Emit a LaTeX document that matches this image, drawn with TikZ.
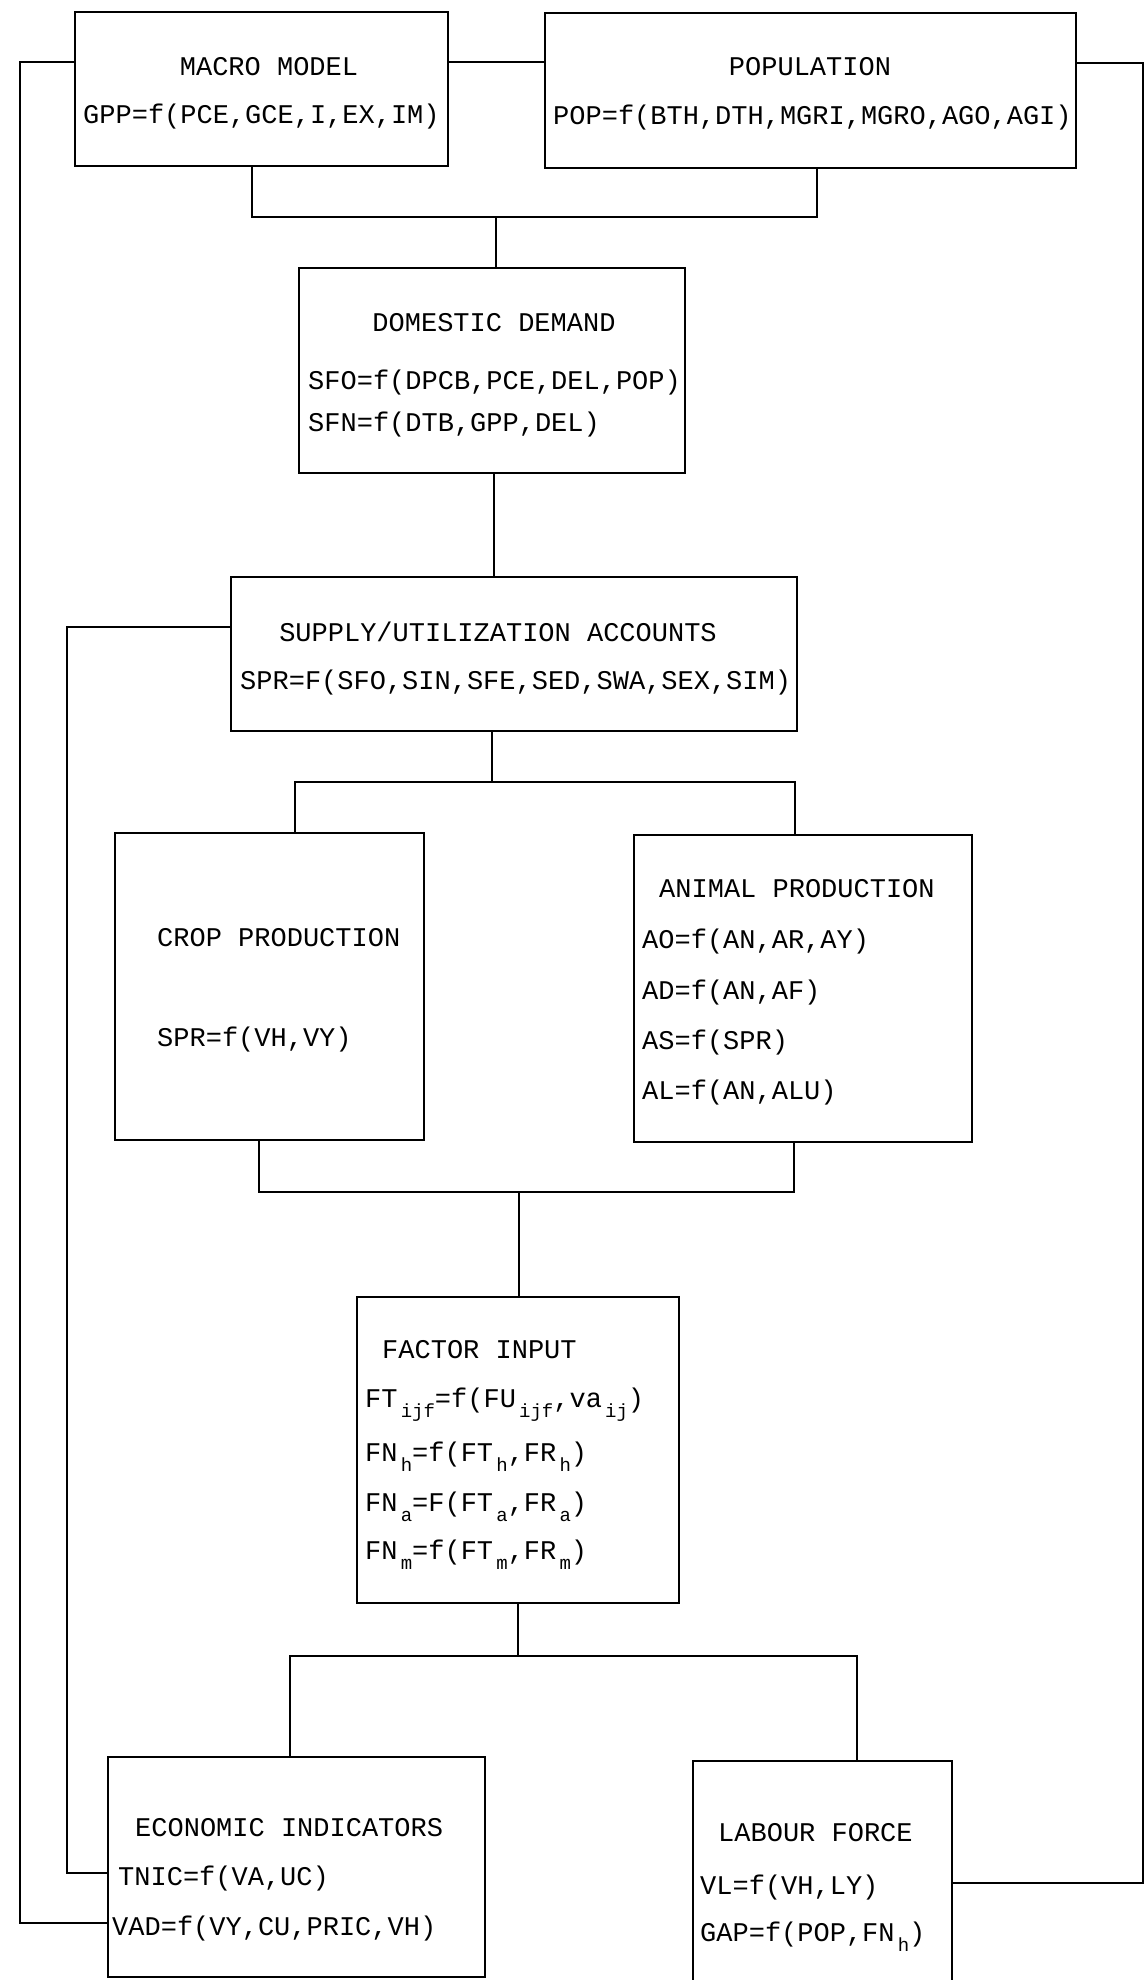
\documentclass[tikz,border=0pt]{standalone}
\usepackage{fontspec}
\setmainfont{Liberation Mono}
\newcommand{\lowsub}[1]{\raisebox{-10pt}{\fontsize{19}{19}\selectfont\,#1}}

\begin{document}
\begin{tikzpicture}[x=1pt,y=-1pt,
    box/.style={draw,line width=2pt,inner sep=0pt},
    ttl/.style={inner sep=0pt,font=\fontsize{27}{30}\selectfont},
    txt/.style={anchor=west,inner sep=0pt,font=\fontsize{27}{30}\selectfont},
    link/.style={line width=2pt}]
      \useasboundingbox (0,0) rectangle (1145,1980) ;
      % boxes
      \node[box,minimum width=373,minimum height=154] (macro) at (261.5,89) {} ;
      \node[box,minimum width=531,minimum height=155] (pop) at (810.5,90.5) {} ;
      \node[box,minimum width=386,minimum height=205] (dom) at (492,370.5) {} ;
      \node[box,minimum width=566,minimum height=154] (sua) at (514,654) {} ;
      \node[box,minimum width=309,minimum height=307] (crop) at (269.5,986.5) {} ;
      \node[box,minimum width=338,minimum height=307] (anim) at (803,988.5) {} ;
      \node[box,minimum width=322,minimum height=306] (fact) at (518,1450) {} ;
      \node[box,minimum width=377,minimum height=220] (econ) at (296.5,1867) {} ;
      \node[box,minimum width=259,minimum height=228] (lab) at (822.5,1875) {} ;
      % texts
      \node[ttl] (macroT) at (269,67) {MACRO MODEL} ;
      \node[txt] (macroF) at (83,117) {GPP=f(PCE,GCE,I,EX,IM)} ;
      \node[ttl] (popT) at (810,67) {POPULATION} ;
      \node[txt] (popF) at (553,118) {POP=f(BTH,DTH,MGRI,MGRO,AGO,AGI)} ;
      \node[ttl] (domT) at (494,323) {DOMESTIC DEMAND} ;
      \node[txt] (domA) at (308,383) {SFO=f(DPCB,PCE,DEL,POP)} ;
      \node[txt] (domB) at (308,425) {SFN=f(DTB,GPP,DEL)} ;
      \node[ttl] (suaT) at (498,632) {SUPPLY/UTILIZATION ACCOUNTS} ;
      \node[txt] (suaF) at (240,683) {SPR=F(SFO,SIN,SFE,SED,SWA,SEX,SIM)} ;
      \node[txt] (cropT) at (157,938) {CROP PRODUCTION} ;
      \node[txt] (cropF) at (157,1040) {SPR=f(VH,VY)} ;
      \node[txt] (animT) at (659,889) {ANIMAL PRODUCTION} ;
      \node[txt] (animA) at (642,942) {AO=f(AN,AR,AY)} ;
      \node[txt] (animB) at (642,993) {AD=f(AN,AF)} ;
      \node[txt] (animC) at (642,1043) {AS=f(SPR)} ;
      \node[txt] (animD) at (642,1093) {AL=f(AN,ALU)} ;
      \node[txt] (factT) at (382,1350) {FACTOR INPUT} ;
      \node[txt] (factA) at (365,1405) {FT\lowsub{ijf}=f(FU\lowsub{ijf},va\lowsub{ij})} ;
      \node[txt] (factB) at (365,1457) {FN\lowsub{h}=f(FT\lowsub{h},FR\lowsub{h})} ;
      \node[txt] (factC) at (365,1507) {FN\lowsub{a}=F(FT\lowsub{a},FR\lowsub{a})} ;
      \node[txt] (factD) at (365,1555) {FN\lowsub{m}=f(FT\lowsub{m},FR\lowsub{m})} ;
      \node[txt] (econT) at (135,1828) {ECONOMIC INDICATORS} ;
      \node[txt] (econA) at (118,1878) {TNIC=f(VA,UC)} ;
      \node[txt] (econB) at (112,1928) {VAD=f(VY,CU,PRIC,VH)} ;
      \node[txt] (labT) at (718,1833) {LABOUR FORCE} ;
      \node[txt] (labA) at (700,1887) {VL=f(VH,LY)} ;
      \node[txt] (labB) at (700,1937) {GAP=f(POP,FN\lowsub{h})} ;
      % tree links
      \coordinate (j1) at (496,217) ;
      \coordinate (j2) at (492,782) ;
      \coordinate (j3) at (519,1192) ;
      \coordinate (j4) at (518,1656) ;
      \draw[link] ([xshift=-9.5]macro.south) |- (j1) -| ([xshift=6.5]pop.south) ;
      \draw[link] (j1) -- (j1 |- dom.north) ;
      \draw[link] ([xshift=2]dom.south) -- ([xshift=-20]sua.north) ;
      \draw[link] (j2 |- sua.south) -- (j2) ;
      \draw[link] ([xshift=25.5]crop.north) |- (j2) -| ([xshift=-8]anim.north) ;
      \draw[link] ([xshift=-10.5]crop.south) |- (j3) -| ([xshift=-9]anim.south) ;
      \draw[link] (j3) -- (j3 |- fact.north) ;
      \draw[link] (j4 |- fact.south) -- (j4) ;
      \draw[link] ([xshift=-6.5]econ.north) |- (j4) -| ([xshift=34.5]lab.north) ;
      % feedback lines
      \coordinate (outtop) at (20,62) ;
      \coordinate (outbot) at (20,1923) ;
      \coordinate (intop) at (67,627) ;
      \coordinate (inbot) at (67,1873) ;
      \coordinate (rtop) at (1143,63) ;
      \coordinate (rbot) at (1143,1883) ;
      \draw[link] (outtop -| macro.west) -- (outtop) -- (outbot) -- (outbot -| econ.west) ;
      \draw[link] (intop -| sua.west) -- (intop) -- (inbot) -- (inbot -| econ.west) ;
      \draw[link] (outtop -| macro.east) -- (outtop -| pop.west) ;
      \draw[link] (rtop -| pop.east) -- (rtop) -- (rbot) -- (rbot -| lab.east) ;
\end{tikzpicture}
\end{document}
